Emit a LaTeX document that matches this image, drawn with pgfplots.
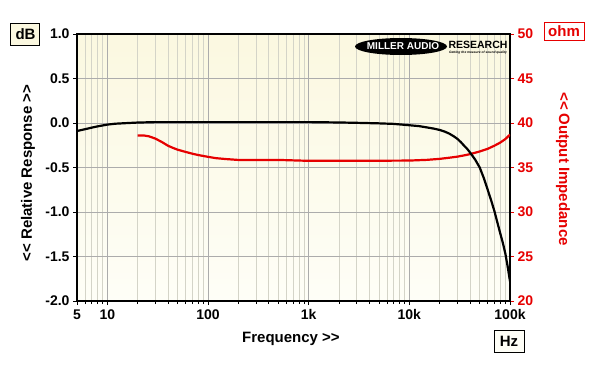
\documentclass[border=0pt]{standalone}
\usepackage{graphicx}
\usepackage{pgfplots}
\pgfplotsset{compat=1.18}
\usepackage{fontspec}
\setmainfont{Liberation Sans}
\definecolor{creamtop}{RGB}{251,248,224}
\definecolor{creambot}{RGB}{254,254,247}
\definecolor{mred}{RGB}{230,0,0}
\definecolor{majgrid}{RGB}{172,172,172}
\definecolor{mingrid}{RGB}{212,212,200}
\newcommand{\dblt}{<\kern0pt<}
\newcommand{\dbgt}{>\kern0pt>}
\begin{document}
\begin{tikzpicture}
\useasboundingbox (-77pt,-67pt) rectangle (523pt,301pt);
% ---------- impedance axis (right) with background and grid ----------
\begin{axis}[
  at={(0pt,0pt)}, anchor=south west,
  scale only axis, width=433pt, height=267pt,
  xmode=log, xmin=5, xmax=100000,
  ymin=20, ymax=50,
  axis background/.style={top color=creamtop, bottom color=creambot},
  xtick={5,10,100,1000,10000,100000},
  xticklabels={5,10,100,1k,10k,100k},
  minor xtick={6,7,8,9,20,30,40,50,60,70,80,90,200,300,400,500,600,700,800,900,2000,3000,4000,5000,6000,7000,8000,9000,20000,30000,40000,50000,60000,70000,80000,90000},
  ytick={20,25,30,35,40,45,50},
  yticklabels={20,25,30,35,40,45,50},
  xtick pos=left, ytick pos=right,
  tick align=outside,
  major tick length=4pt, minor tick length=3pt,
  xtick style={black, line width=0.8pt},
  ytick style={mred, line width=1pt},
  grid=both,
  major grid style={majgrid, line width=0.6pt},
  minor grid style={mingrid, line width=0.5pt},
  axis line style={black, line width=1.6pt},
  /pgf/number format/assume math mode=true,
  xticklabel style={font=\fontsize{14}{16}\selectfont\bfseries, black, yshift=-1pt},
  yticklabel style={font=\fontsize{14}{16}\selectfont\bfseries, mred},
]
\addplot[mred, line width=2.2pt, line join=round] coordinates {
(20,38.6) (23,38.6) (26,38.5) (30,38.25) (35,37.85) (40,37.45) (45,37.2) (50,37.0)
(60,36.75) (70,36.55) (80,36.4) (100,36.2) (120,36.05) (150,35.95) (200,35.85)
(500,35.85) (1000,35.75) (3000,35.75) (10000,35.78) (15000,35.86) (20000,35.97)
(25000,36.1) (30000,36.22) (35000,36.36) (40000,36.5) (50000,36.8) (60000,37.1)
(70000,37.45) (80000,37.8) (90000,38.2) (100000,38.7)
};
\end{axis}
% ---------- response axis (left) ----------
\begin{axis}[
  at={(0pt,0pt)}, anchor=south west,
  scale only axis, width=433pt, height=267pt,
  xmode=log, xmin=5, xmax=100000,
  ymin=-2, ymax=1,
  axis x line=none,
  axis y line*=left,
  ytick={-2,-1.5,-1,-0.5,0,0.5,1},
  yticklabels={-2.0,-1.5,-1.0,-0.5,0.0,0.5,1.0},
  tick align=outside, major tick length=4pt,
  ytick style={black, line width=1pt},
  axis line style={black, line width=1.6pt},
  /pgf/number format/assume math mode=true,
  yticklabel style={font=\fontsize{14}{16}\selectfont\bfseries, black},
]
\addplot[black, line width=2.2pt, line join=round] coordinates {
(5,-0.09) (6,-0.07) (7,-0.052) (8,-0.038) (10,-0.018) (12,-0.008) (15,-0.002) (20,0.005)
(30,0.01) (100,0.01) (1000,0.01) (2000,0.006) (3000,0.002) (5000,-0.004)
(7000,-0.01) (10000,-0.025) (12500,-0.035) (15000,-0.05) (17500,-0.063) (20000,-0.078)
(22500,-0.097) (25000,-0.12) (27500,-0.148) (30000,-0.178) (32500,-0.215) (35000,-0.255)
(37500,-0.29) (40000,-0.33) (45000,-0.41) (50000,-0.5) (55000,-0.62)
(60000,-0.75) (65000,-0.87) (70000,-0.99) (75000,-1.12) (80000,-1.24) (85000,-1.35) (90000,-1.47)
(95000,-1.62) (100000,-1.78)
};
\end{axis}
% ---------- logo ----------
\fill[black] (324pt,254.5pt) ellipse [x radius=46pt, y radius=8.5pt];
\node[text=white, inner sep=0pt, font=\fontsize{10}{10}\selectfont\bfseries] at (326pt,254.5pt) {MILLER AUDIO};
\node[font=\fontsize{10.5}{10}\selectfont\bfseries, inner sep=0pt] at (401pt,256pt) {RESEARCH};
\node[inner sep=0pt] at (401pt,248.5pt) {\resizebox{58pt}{!}{\bfseries\itshape Getting the measure of sound quality}};
% ---------- labels ----------
\node[rotate=90, font=\fontsize{15}{17}\selectfont\bfseries] at (-49pt,128pt) {\dblt{} Relative Response \dbgt};
\node[rotate=-90, font=\fontsize{15}{17}\selectfont\bfseries, text=mred] at (486pt,132pt) {\dblt{} Output Impedance};
\node[font=\fontsize{15}{17}\selectfont\bfseries] at (214pt,-38pt) {Frequency \dbgt};
\node[draw=black, line width=1pt, fill=creamtop, minimum width=29pt, minimum height=22pt, inner sep=0pt,
      font=\fontsize{15}{17}\selectfont\bfseries] at (-51.5pt,267pt) {dB};
\node[draw=mred, line width=1pt, fill=white, minimum width=40pt, minimum height=18pt, inner sep=0pt,
      font=\fontsize{15}{17}\selectfont\bfseries, text=mred] at (487pt,269.5pt) {ohm};
\node[draw=black, line width=1pt, fill=creambot, minimum width=30pt, minimum height=22pt, inner sep=0pt,
      font=\fontsize{15}{17}\selectfont\bfseries] at (432pt,-40pt) {Hz};
\end{tikzpicture}
\end{document}
